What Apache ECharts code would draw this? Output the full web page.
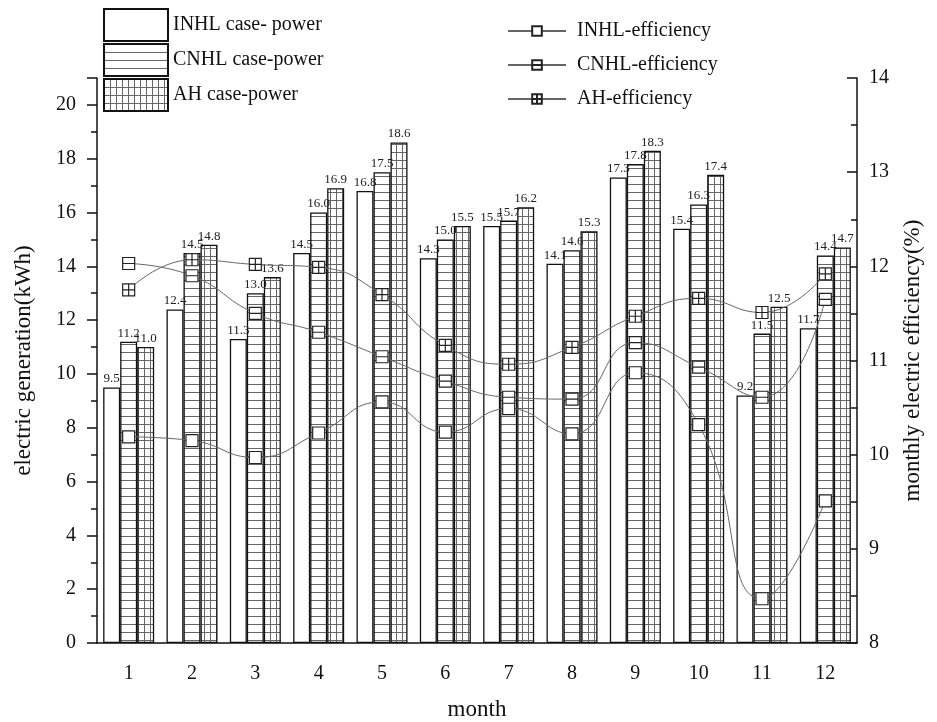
<!DOCTYPE html>
<html>
<head>
<meta charset="utf-8">
<script src="https://cdn.jsdelivr.net/npm/echarts@6/dist/echarts.min.js"></script>
<style>
html,body{margin:0;padding:0;background:#fff;}
#chart{width:937px;height:722px;}
</style>
</head>
<body>
<div id="chart"></div>
<script>
// ---- data ----
var months = ['1','2','3','4','5','6','7','8','9','10','11','12'];
var inhlPower = [9.5, 12.4, 11.3, 14.5, 16.8, 14.3, 15.5, 14.1, 17.3, 15.4, 9.2, 11.7];
var cnhlPower = [11.2, 14.5, 13.0, 16.0, 17.5, 15.0, 15.7, 14.6, 17.8, 16.3, 11.5, 14.4];
var ahPower   = [11.0, 14.8, 13.6, 16.9, 18.6, 15.5, 16.2, 15.3, 18.3, 17.4, 12.5, 14.7];
var inhlEff = [10.19, 10.15, 9.97, 10.23, 10.56, 10.24, 10.49, 10.22, 10.87, 10.32, 8.47, 9.51];
var cnhlEff = [12.03, 11.90, 11.50, 11.30, 11.04, 10.78, 10.61, 10.59, 11.19, 10.93, 10.61, 11.65];
var ahEff   = [11.75, 12.07, 12.02, 11.99, 11.70, 11.16, 10.96, 11.14, 11.47, 11.66, 11.51, 11.92];
var seriesNames = ['INHL case- power', 'CNHL case-power', 'AH case-power', 'INHL-efficiency', 'CNHL-efficiency', 'AH-efficiency'];

var FONT = '"Liberation Serif", "DejaVu Serif", serif';

function makePattern(w, h, horiz, vert) {
  var c = document.createElement('canvas');
  c.width = w; c.height = h;
  var ctx = c.getContext('2d');
  ctx.fillStyle = '#fff';
  ctx.fillRect(0, 0, w, h);
  ctx.strokeStyle = '#666';
  ctx.lineWidth = 1;
  ctx.beginPath();
  if (horiz) { ctx.moveTo(0, 0.5); ctx.lineTo(w, 0.5); }
  if (vert) { ctx.moveTo(0.5, 0); ctx.lineTo(0.5, h); }
  ctx.stroke();
  return c;
}
var hPat = makePattern(8, 8, true, false);
var gPat = makePattern(6, 8, true, true);

var barLabel = {
  show: true, position: 'top', distance: 2,
  fontFamily: FONT, fontSize: 13, color: '#222',
  formatter: function (p) { return p.value.toFixed(1); }
};
function barSeries(name, data, color) {
  return {
    name: name, type: 'bar', data: data, xAxisIndex: 0, yAxisIndex: 0,
    barWidth: 17, barGap: '0%',
    itemStyle: { color: color, borderColor: '#111', borderWidth: 1.3 },
    label: barLabel, z: 2
  };
}
function lineSeries(name, data, symbol) {
  return {
    name: name, type: 'line', data: data, xAxisIndex: 0, yAxisIndex: 2,
    smooth: 0.5, symbol: symbol, symbolSize: 12,
    lineStyle: { color: '#666', width: 1 },
    itemStyle: { color: '#fff', borderColor: '#222', borderWidth: 1.2 },
    z: 5
  };
}

var chart = echarts.init(document.getElementById('chart'), null, { renderer: 'canvas' });
var axisFont = { fontFamily: FONT, fontSize: 20, color: '#111' };
var option = {
  animation: false,
  backgroundColor: '#fff',
  textStyle: { fontFamily: FONT },
  grid: { left: 97, right: 80, top: 78, bottom: 79, containLabel: false, outerBoundsMode: 'none' },
  legend: [
    {
      data: seriesNames.slice(0, 3), orient: 'vertical', left: 103, top: 8, padding: 0,
      itemWidth: 64, itemHeight: 32, itemGap: 1, icon: 'rect',
      textStyle: { fontFamily: FONT, fontSize: 20, color: '#111', padding: [0, 0, 0, 0] }
    },
    {
      data: seriesNames.slice(3), orient: 'vertical', left: 507, top: 21, padding: 0,
      itemWidth: 58, itemHeight: 12, itemGap: 14,
      textStyle: { fontFamily: FONT, fontSize: 20, color: '#111', padding: [0, 0, 0, 6] }
    }
  ],
  xAxis: [
    {
      type: 'category', data: months, position: 'bottom',
      name: 'month', nameLocation: 'middle', nameGap: 55,
      nameTextStyle: { fontFamily: FONT, fontSize: 23, color: '#111' },
      axisLine: { lineStyle: { color: '#111', width: 1.5 } },
      axisTick: { alignWithLabel: true, length: 10, lineStyle: { color: '#111', width: 1.5 } },
      axisLabel: Object.assign({ margin: 21 }, axisFont),
      splitLine: { show: false }
    },
    {
      type: 'category', data: months, position: 'bottom',
      axisLine: { show: false },
      axisTick: { alignWithLabel: false, length: 6, lineStyle: { color: '#111', width: 1.5 } },
      axisLabel: { show: false },
      splitLine: { show: false }
    }
  ],
  yAxis: [
    {
      type: 'value', position: 'left', min: 0, max: 21, interval: 2,
      name: 'electric generation(kWh)', nameLocation: 'middle', nameGap: 62, nameRotate: 90,
      nameTextStyle: { fontFamily: FONT, fontSize: 23, color: '#111' },
      axisLine: { show: true, lineStyle: { color: '#111', width: 1.5 } },
      axisTick: { show: true, length: 10, lineStyle: { color: '#111', width: 1.5 } },
      axisLabel: Object.assign({ margin: 21, formatter: function (v) { return v > 20 ? '' : String(v); } }, axisFont),
      splitLine: { show: false }
    },
    {
      type: 'value', position: 'left', min: 0, max: 21, interval: 1,
      axisLine: { show: false },
      axisTick: { show: true, length: 6, lineStyle: { color: '#111', width: 1.5 } },
      axisLabel: { show: false },
      splitLine: { show: false }
    },
    {
      type: 'value', position: 'right', min: 8, max: 14, interval: 1,
      name: 'monthly electric efficiency(%)', nameLocation: 'middle', nameGap: 44, nameRotate: 90,
      nameTextStyle: { fontFamily: FONT, fontSize: 23, color: '#111' },
      axisLine: { show: true, lineStyle: { color: '#111', width: 1.5 } },
      axisTick: { show: true, inside: true, length: 10, lineStyle: { color: '#111', width: 1.5 } },
      minorTick: { show: true, splitNumber: 2, length: 6, lineStyle: { color: '#111', width: 1.5 } },
      axisLabel: Object.assign({ margin: 12 }, axisFont),
      splitLine: { show: false }
    }
  ],
  series: [
    barSeries(seriesNames[0], inhlPower, '#fff'),
    barSeries(seriesNames[1], cnhlPower, { image: hPat, repeat: 'repeat' }),
    barSeries(seriesNames[2], ahPower, { image: gPat, repeat: 'repeat' }),
    lineSeries(seriesNames[3], inhlEff, 'path://M0,0H10V10H0Z'),
    lineSeries(seriesNames[4], cnhlEff, 'path://M0,0H10V10H0ZM0,5H10'),
    lineSeries(seriesNames[5], ahEff, 'path://M0,0H10V10H0ZM0,5H10M5,0V10')
  ]
};
chart.setOption(option);
</script>
</body>
</html>
